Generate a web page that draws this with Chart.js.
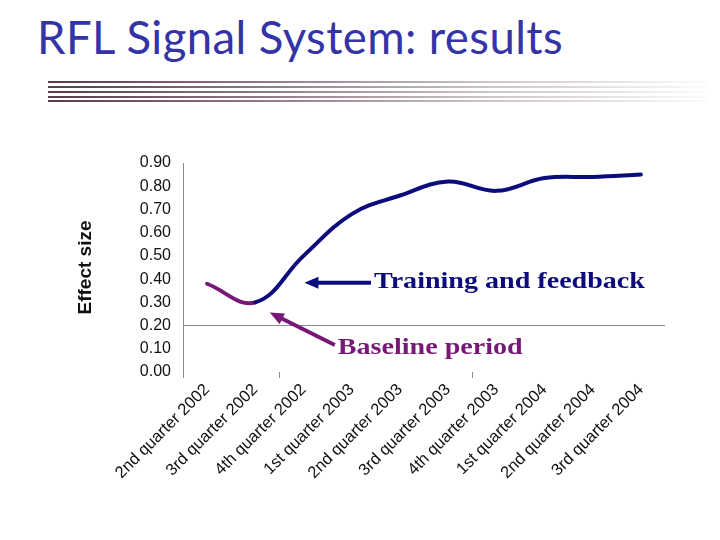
<!DOCTYPE html>
<html>
<head>
<meta charset="utf-8">
<script src="https://cdn.jsdelivr.net/npm/chart.js@4"></script>
<style>
  html, body { margin: 0; padding: 0; background: #fff; }
  #wrap { position: relative; width: 720px; height: 540px; overflow: hidden; }
  #title {
    position: absolute; left: 37px; top: 9px;
    font-family: Lato, "Noto Sans", sans-serif; font-size: 45.5px;
    color: #3434a6; white-space: nowrap; letter-spacing: 0.4px;
  }
  .rule {
    position: absolute; left: 48px; width: 658px; height: 2px;
    background: linear-gradient(to right, #5a3a4c 0%, #8a7482 30%, #c9c0c5 65%, #fbfafb 100%);
  }
  #chart { position: absolute; left: 0; top: 0; }
</style>
</head>
<body>
<div id="wrap">
  <div id="title">RFL Signal System: results</div>
  <div class="rule" style="top:81px"></div>
  <div class="rule" style="top:86px"></div>
  <div class="rule" style="top:91px"></div>
  <div class="rule" style="top:96px"></div>
  <div class="rule" style="top:100px"></div>
  <canvas id="chart" width="720" height="540"></canvas>
</div>
<script>
// Quarters on the x axis
const quarters = [
  '2nd quarter 2002', '3rd quarter 2002', '4th quarter 2002',
  '1st quarter 2003', '2nd quarter 2003', '3rd quarter 2003', '4th quarter 2003',
  '1st quarter 2004', '2nd quarter 2004', '3rd quarter 2004'
];
// Effect size
const effectSize = [0.38, 0.30, 0.50, 0.68, 0.76, 0.82, 0.78, 0.835, 0.84, 0.85];
// which period each quarter belongs to
const period = ['baseline', 'baseline', 'training', 'training', 'training',
                'training', 'training', 'training', 'training', 'training'];
const yTicks = [0, 0.1, 0.2, 0.3, 0.4, 0.5, 0.6, 0.7, 0.8, 0.9];

const navy = '#0b0b7e';
const purple = '#771877';

// arrows + labels for the two periods
const notes = {
  id: 'notes',
  afterDatasetsDraw(chart) {
    const { ctx, scales: { x, y } } = chart;
    const arrow = (x1, y1, x2, y2, col) => {
      const a = Math.atan2(y2 - y1, x2 - x1);
      ctx.save();
      ctx.strokeStyle = col; ctx.fillStyle = col; ctx.lineWidth = 4;
      ctx.beginPath();
      ctx.moveTo(x1, y1);
      ctx.lineTo(x2 - 10 * Math.cos(a), y2 - 10 * Math.sin(a));
      ctx.stroke();
      ctx.beginPath();
      ctx.moveTo(x2, y2);
      ctx.lineTo(x2 - 14 * Math.cos(a) + 6 * Math.sin(a), y2 - 14 * Math.sin(a) - 6 * Math.cos(a));
      ctx.lineTo(x2 - 14 * Math.cos(a) - 6 * Math.sin(a), y2 - 14 * Math.sin(a) + 6 * Math.cos(a));
      ctx.closePath();
      ctx.fill();
      ctx.restore();
    };
    // text in the slide is stretched a bit wider than plain Times
    const text = (s, px, py, col) => {
      ctx.save();
      ctx.font = 'bold 24px "Liberation Serif", "DejaVu Serif", serif';
      ctx.fillStyle = col;
      ctx.textBaseline = 'alphabetic';
      ctx.translate(px, py);
      ctx.scale(1.17, 1);
      ctx.fillText(s, 0, 0);
      ctx.restore();
    };
    const ty = y.getPixelForValue(0.384);
    arrow(x.getPixelForValue(3.4), ty, x.getPixelForValue(2.02), ty, navy);
    text('Training and feedback', x.getPixelForValue(3.4) + 3, ty + 5, navy);

    arrow(x.getPixelForValue(2.65), y.getPixelForValue(0.116),
          x.getPixelForValue(1.3), y.getPixelForValue(0.256), purple);
    text('Baseline period', x.getPixelForValue(2.65) + 3, y.getPixelForValue(0.116) + 9, purple);
  }
};

new Chart(document.getElementById('chart'), {
  type: 'line',
  data: {
    labels: quarters,
    datasets: [{
      label: 'Effect size',
      data: effectSize,
      borderColor: navy,
      borderWidth: 4,
      pointRadius: 0,
      tension: 0.4,
      fill: false,
      borderCapStyle: 'round',
      segment: {
        borderColor: (c) => period[c.p1DataIndex] === 'baseline' ? purple : navy
      }
    }]
  },
  options: {
    responsive: false,
    animation: false,
    layout: { padding: { left: 72, top: 163, right: 55, bottom: 58 } },
    plugins: { legend: { display: false }, tooltip: { enabled: false } },
    scales: {
      x: {
        offset: true,
        border: { display: false },
        grid: {
          offset: true,
          drawOnChartArea: false,
          tickLength: 6,
          color: (c) => [0, 2, 6].includes(c.index) ? '#8a8a8a' : 'rgba(0,0,0,0)'
        },
        ticks: {
          minRotation: 45, maxRotation: 45, padding: 2, autoSkip: false,
          color: '#111', font: { family: '"Liberation Sans", Arial, sans-serif', size: 16.5 }
        },
        afterFit: (s) => { s.height = 110; }
      },
      y: {
        min: 0, max: 0.9,
        afterBuildTicks: (s) => { s.ticks = yTicks.map(v => ({ value: v })); },
        border: { display: true, color: '#8a8a8a', width: 1 },
        grid: {
          drawTicks: false,
          color: (c) => (c.tick && Math.abs(c.tick.value - 0.2) < 1e-6) ? '#8a8a8a' : 'rgba(0,0,0,0)'
        },
        ticks: {
          padding: 12, color: '#111',
          font: { family: '"Liberation Sans", Arial, sans-serif', size: 16 },
          callback: (v) => Number(v).toFixed(2)
        },
        title: {
          display: true, text: 'Effect size', color: '#111',
          font: { family: '"Liberation Sans", Arial, sans-serif', size: 19, weight: 'bold' },
          padding: { top: 2, bottom: 4 }
        },
        afterFit: (s) => { s.width = 111; }
      }
    }
  },
  plugins: [notes]
});
</script>
</body>
</html>
